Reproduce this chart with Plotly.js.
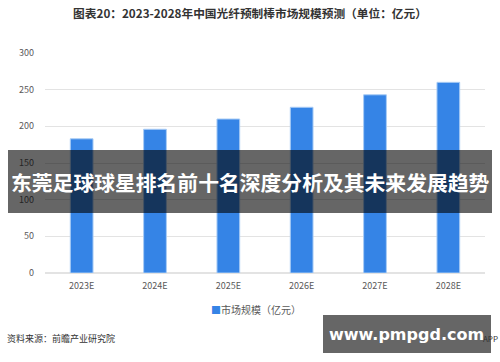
<!DOCTYPE html>
<html>
<head>
<meta charset="utf-8">
<script src="https://cdn.plot.ly/plotly-3.0.1.min.js"></script>
<style>
html,body{margin:0;padding:0;background:#fff;}
#chart{width:500px;height:362px;}
</style>
</head>
<body>
<div id="chart"></div>
<script>
const categories = ["2023E", "2024E", "2025E", "2026E", "2027E", "2028E"];
const marketSize = [183, 196, 210, 226, 243, 260];
const yTicks = [0, 50, 100, 150, 200, 250, 300];
const seriesName = "市场规模（亿元）";
const titleText = "图表20：2023-2028年中国光纤预制棒市场规模预测（单位：亿元）";
const sourceText = "资料来源：前瞻产业研究院";
const bannerText = "东莞足球球星排名前十名深度分析及其未来发展趋势";
const siteText = "www.pmpgd.com";
const barColor = "#3584e6";

const font = "'Noto Sans CJK SC', 'Noto Sans', sans-serif";

const trace = {
  type: "bar",
  x: categories,
  y: marketSize,
  name: seriesName,
  marker: {color: barColor, line: {color: "#a9ccf5", width: 1}},
  hoverinfo: "none",
  showlegend: false
};

const px = (x) => (x - 45) / 440;
const py = (y) => (273 - y) / 220;

const layout = {
  width: 500, height: 362,
  margin: {l: 45, r: 15, t: 53, b: 89},
  paper_bgcolor: "#fff", plot_bgcolor: "#fff",
  font: {family: font, size: 9, color: "#595959"},
  bargap: 0.69,
  title: {text: titleText, x: 0.5, xanchor: "center", y: 0.962, yanchor: "middle",
          font: {family: font, size: 11.7, color: "#333", weight: "bold"}},
  xaxis: {showgrid: false, showline: false, ticks: "", ticklabelstandoff: 6,
          tickfont: {size: 9, color: "#595959"}, fixedrange: true},
  yaxis: {range: [0, 300], tickvals: yTicks, showgrid: true, gridcolor: "#e3e3e3", gridwidth: 1,
          zeroline: true, zerolinecolor: "#e3e3e3", zerolinewidth: 2, ticklabelstandoff: 10,
          tickfont: {size: 9, color: "#595959"}, ticks: "", ticklen: 0, automargin: false},
  showlegend: false,
  shapes: [
    {type: "rect", xref: "paper", yref: "paper", x0: px(8), x1: px(492),
     y0: py(213), y1: py(150), fillcolor: "rgba(0,0,0,0.6)", line: {width: 0}, layer: "above"},
    {type: "rect", xref: "paper", yref: "paper", x0: px(323), x1: px(491),
     y0: py(353), y1: py(315), fillcolor: "#666666", line: {width: 0}, layer: "above"}
  ],
  annotations: [
    {text: "<span style='color:" + barColor + "'>■</span>" + seriesName, xref: "paper", yref: "paper",
     x: px(256), xanchor: "center", y: py(309), yanchor: "middle", showarrow: false,
     font: {size: 10, color: "#595959"}},
    {text: sourceText, xref: "paper", yref: "paper", x: px(5), xanchor: "left",
     y: py(338), yanchor: "middle", showarrow: false, font: {size: 9, color: "#333"}},
    {text: "APP", xref: "paper", yref: "paper", x: px(500), xanchor: "right",
     y: py(338), yanchor: "middle", showarrow: false, font: {size: 8, color: "#333"}},
    {text: bannerText, xref: "paper", yref: "paper", x: px(250), xanchor: "center",
     y: py(182), yanchor: "middle", showarrow: false,
     font: {size: 20.8, color: "#fff", weight: "bold"}},
    {text: siteText, xref: "paper", yref: "paper", x: px(406), xanchor: "center",
     y: py(334), yanchor: "middle", showarrow: false,
     font: {family: "'DejaVu Sans', sans-serif", size: 16, color: "#fff", weight: "bold"}}
  ]
};

Plotly.newPlot("chart", [trace], layout, {staticPlot: true, displayModeBar: false});
</script>
</body>
</html>
